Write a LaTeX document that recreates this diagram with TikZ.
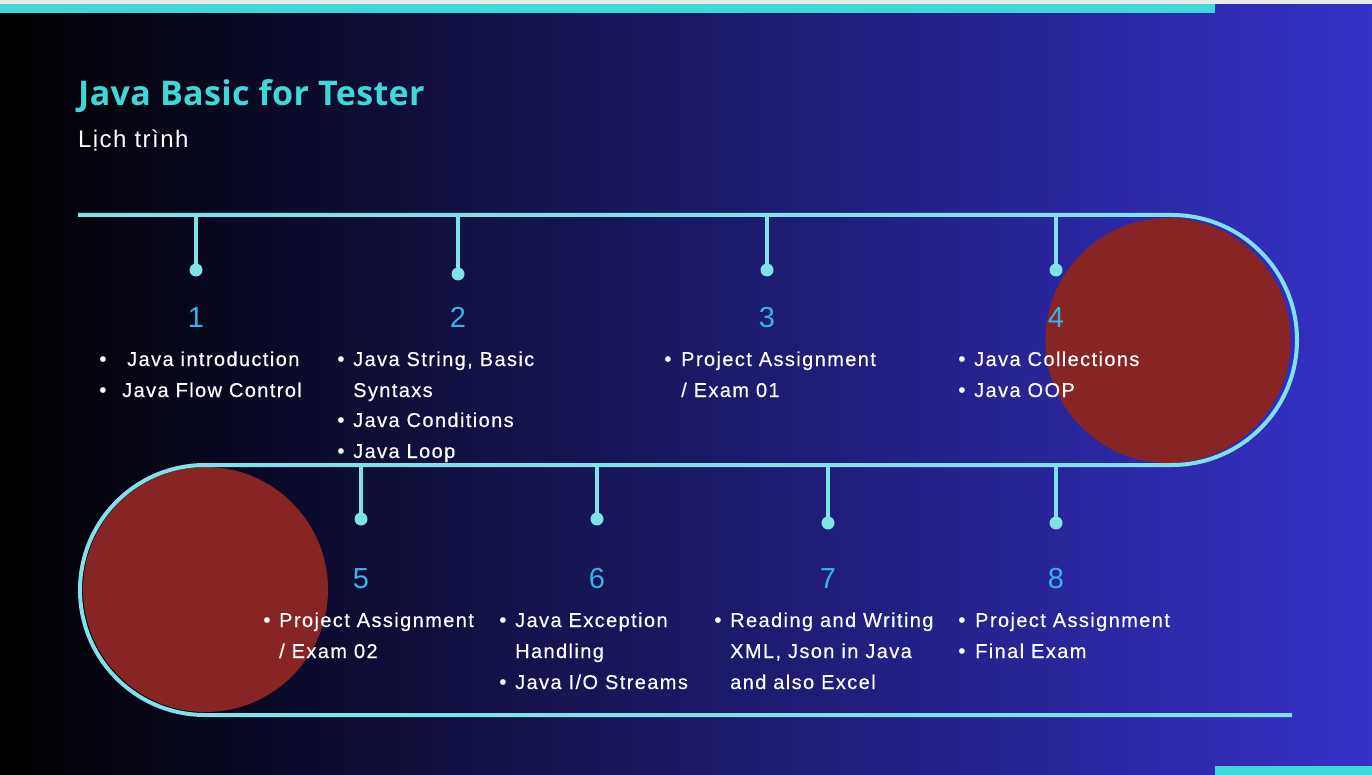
\documentclass[tikz,border=0pt]{standalone}
\usepackage{fontspec}
\setmainfont{Liberation Sans}
\newfontfamily\itemfont{Liberation Sans}[LetterSpace=7,FakeBold=0.4]
\newfontfamily\numfont{Liberation Sans}
\newfontfamily\subfont{Liberation Sans}[LetterSpace=6]
\newfontfamily\titlefont{Open Sans}[LetterSpace=1]
\definecolor{bgL}{HTML}{000000}
\definecolor{bgR}{HTML}{3531C9}
\definecolor{trackc}{HTML}{7EE2E8}
\definecolor{barc}{HTML}{3FD8D8}
\definecolor{numc}{HTML}{38B2E8}
\definecolor{redc}{HTML}{872525}
\definecolor{greyc}{HTML}{E9E9EE}
\tikzset{
  track/.style={draw=trackc, line width=4pt},
  stem/.style={draw=trackc, line width=4pt},
  dotn/.style={circle, fill=trackc, inner sep=0pt, minimum size=13pt},
  num/.style={anchor=base, text=numc, font=\numfont\fontsize{29}{34}\selectfont},
  item/.style={anchor=base west, text=white, inner sep=0pt, font=\itemfont\fontsize{20}{24}\selectfont},
  bul/.style={anchor=base, text=white, inner sep=0pt, font=\numfont\fontsize{21}{24}\selectfont},
}
\begin{document}
\begin{tikzpicture}[x=1pt,y=-1pt]
\useasboundingbox (0,0) rectangle (1372,775);
% background
\shade[left color=bgL, right color=bgR] (0,0) rectangle (1372,775);
\fill[greyc] (0,0) rectangle (1372,4);
\fill[barc] (0,4) rectangle (1215,13);
\fill[barc] (1215,766) rectangle (1372,775);
% title
\node[anchor=base west, inner sep=0pt, text=barc, font=\titlefont\bfseries\fontsize{34}{40}\selectfont] (title) at (78,106) {Java Basic for Tester};
\node[anchor=base west, inner sep=0pt, text=white, font=\subfont\fontsize{24}{28}\selectfont] (sub) at (78,148) {Lịch trình};
% red circles
\fill[redc] (1168,340.5) circle[radius=122.5pt];
\fill[redc] (205.5,589.5) circle[radius=122.5pt];
% track
\coordinate (ts) at (78,215);
\coordinate (tr) at (1172,215);
\coordinate (mr) at (205,465);
\coordinate (be) at (1292,715);
\draw[track] (ts) -- (tr) arc[start angle=90, end angle=-90, radius=125pt] -- (mr) arc[start angle=90, end angle=270, radius=125pt] -- (be);
% stems top
\foreach \i/\x/\y in {1/196/270, 2/458/274, 3/767/270, 4/1056/270}{
  \coordinate (s\i) at (\x,215);
  \node[dotn] (d\i) at (\x,\y) {};
  \draw[stem] (s\i) -- (d\i.center);
}
\foreach \i/\x/\y in {5/361/519, 6/597/519, 7/828/523, 8/1056/523}{
  \coordinate (s\i) at (\x,465);
  \node[dotn] (d\i) at (\x,\y) {};
  \draw[stem] (s\i) -- (d\i.center);
}
% numbers
\node[num] (n1) at (196,327) {1};
\node[num] (n2) at (458,327) {2};
\node[num] (n3) at (767,327) {3};
\node[num] (n4) at (1056,327) {4};
\node[num] (n5) at (361,588) {5};
\node[num] (n6) at (597,588) {6};
\node[num] (n7) at (828,588) {7};
\node[num] (n8) at (1056,588) {8};
% column 1
\node[bul] (b1a) at (103,366) {•};
\node[item] (t1a) at (127,366) {Java introduction};
\node[bul] (b1b) at (103,397) {•};
\node[item] (t1b) at (122,397) {Java Flow Control};
% column 2
\node[bul] (b2a) at (341,366) {•};
\node[item] (t2a) at (353,366) {Java String, Basic};
\node[item] (t2b) at (353,397) {Syntaxs};
\node[bul] (b2c) at (341,427) {•};
\node[item] (t2c) at (353,427) {Java Conditions};
\node[bul] (b2d) at (341,458) {•};
\node[item] (t2d) at (353,458) {Java Loop};
% column 3
\node[bul] (b3a) at (668,366) {•};
\node[item] (t3a) at (681,366) {Project Assignment};
\node[item] (t3b) at (681,397) {/ Exam 01};
% column 4
\node[bul] (b4a) at (962,366) {•};
\node[item] (t4a) at (974,366) {Java Collections};
\node[bul] (b4b) at (962,397) {•};
\node[item] (t4b) at (974,397) {Java OOP};
% column 5
\node[bul] (b5a) at (267,627) {•};
\node[item] (t5a) at (279,627) {Project Assignment};
\node[item] (t5b) at (279,658) {/ Exam 02};
% column 6
\node[bul] (b6a) at (503,627) {•};
\node[item] (t6a) at (515,627) {Java Exception};
\node[item] (t6b) at (515,658) {Handling};
\node[bul] (b6c) at (503,689) {•};
\node[item] (t6c) at (515,689) {Java I/O Streams};
% column 7
\node[bul] (b7a) at (718,627) {•};
\node[item] (t7a) at (730,627) {Reading and Writing};
\node[item] (t7b) at (730,658) {XML, Json in Java};
\node[item] (t7c) at (730,689) {and also Excel};
% column 8
\node[bul] (b8a) at (962,627) {•};
\node[item] (t8a) at (975,627) {Project Assignment};
\node[bul] (b8b) at (962,658) {•};
\node[item] (t8b) at (975,658) {Final Exam};
\end{tikzpicture}
\end{document}
